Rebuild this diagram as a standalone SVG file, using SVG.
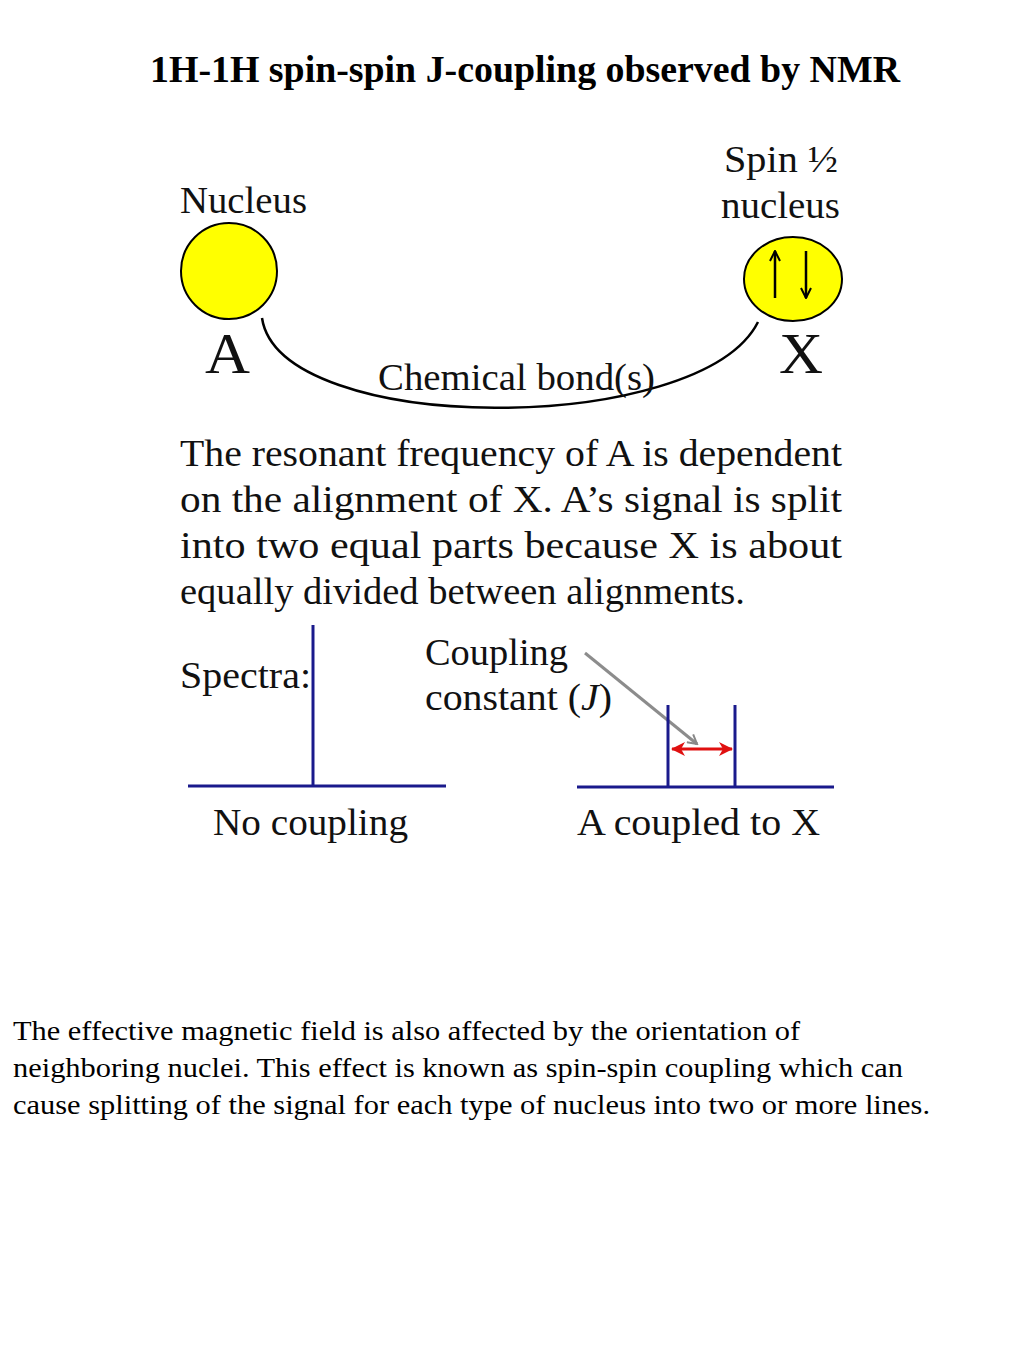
<svg xmlns="http://www.w3.org/2000/svg" width="1024" height="1365" viewBox="0 0 1024 1365">
<style>
.t{font-family:'Liberation Serif','Times New Roman',Times,serif;fill:#000}
.img{font-family:'Liberation Serif','Times New Roman',Times,serif;fill:#111;font-size:38px}
.big{font-size:56px}
.nuc{fill:#ffff00;stroke:#000;stroke-width:2}
.ax{stroke:#1a1a8c;stroke-width:3;fill:none}
</style>
<defs>
<marker id="gh" markerWidth="12" markerHeight="12" refX="10" refY="6" orient="auto" markerUnits="userSpaceOnUse"><path d="M1,1 L10,6 L1,11" fill="none" stroke="#888" stroke-width="2"/></marker>
<marker id="rh" markerWidth="14" markerHeight="14" refX="13" refY="7" orient="auto-start-reverse" markerUnits="userSpaceOnUse"><path d="M0,0 L14,7 L0,14 L4,7 Z" fill="#e01010"/></marker>
<marker id="bh" markerWidth="12" markerHeight="12" refX="11" refY="6" orient="auto" markerUnits="userSpaceOnUse"><path d="M1,1 L11,6 L1,11" fill="none" stroke="#000" stroke-width="2"/></marker>
</defs>
<rect width="1024" height="1365" fill="#fff"/>
<text class="t" x="150" y="82" font-size="37" font-weight="bold" textLength="750" lengthAdjust="spacingAndGlyphs">1H-1H spin-spin J-coupling observed by NMR</text>

<g id="nodeA">
<ellipse class="nuc" cx="229" cy="271" rx="48" ry="48"/>
<text class="img" x="180" y="213" textLength="127" lengthAdjust="spacingAndGlyphs">Nucleus</text>
<text class="img big" x="205" y="373" textLength="45" lengthAdjust="spacingAndGlyphs">A</text>
</g>
<g id="nodeX">
<ellipse class="nuc" cx="793" cy="279" rx="49" ry="42"/>
<line x1="775" y1="298" x2="775" y2="251" stroke="#000" stroke-width="2.5" marker-end="url(#bh)"/>
<line x1="806" y1="251" x2="806" y2="298" stroke="#000" stroke-width="2.5" marker-end="url(#bh)"/>
<text class="img" x="724" y="172" textLength="114" lengthAdjust="spacingAndGlyphs">Spin ½</text>
<text class="img" x="721" y="218" textLength="119" lengthAdjust="spacingAndGlyphs">nucleus</text>
<text class="img big" x="779" y="373" textLength="44" lengthAdjust="spacingAndGlyphs">X</text>
</g>
<g id="connectors">
<path d="M262,318 C280,437 700,437 758,322" fill="none" stroke="#000" stroke-width="2.5"/>
<line x1="585" y1="653" x2="697" y2="744" stroke="#8c8c8c" stroke-width="3" marker-end="url(#gh)"/>
<line x1="672" y1="749" x2="732" y2="749" stroke="#e01010" stroke-width="3" marker-start="url(#rh)" marker-end="url(#rh)"/>
</g>
<g id="bondLabel"><text class="img" x="378" y="390" textLength="277" lengthAdjust="spacingAndGlyphs">Chemical bond(s)</text></g>

<g id="paragraph">
<text class="img" x="180" y="466" textLength="662" lengthAdjust="spacingAndGlyphs">The resonant frequency of A is dependent</text>
<text class="img" x="180" y="512" textLength="662" lengthAdjust="spacingAndGlyphs">on the alignment of X. A’s signal is split</text>
<text class="img" x="180" y="558" textLength="662" lengthAdjust="spacingAndGlyphs">into two equal parts because X is about</text>
<text class="img" x="180" y="604" textLength="565" lengthAdjust="spacingAndGlyphs">equally divided between alignments.</text>
</g>

<g id="spectrumNoCoupling">
<text class="img" x="180" y="688" textLength="131" lengthAdjust="spacingAndGlyphs">Spectra:</text>
<line class="ax" x1="313" y1="625" x2="313" y2="787"/>
<line class="ax" x1="188" y1="786" x2="446" y2="786"/>
<text class="img" x="213" y="835" textLength="195" lengthAdjust="spacingAndGlyphs">No coupling</text>
</g>
<g id="couplingLabel">
<text class="img" x="425" y="665" textLength="143" lengthAdjust="spacingAndGlyphs">Coupling</text>
<text class="img" x="425" y="710" textLength="187" lengthAdjust="spacingAndGlyphs">constant (<tspan font-style="italic">J</tspan>)</text>
</g>
<g id="spectrumCoupled">
<line class="ax" x1="668" y1="705" x2="668" y2="788"/>
<line class="ax" x1="735" y1="705" x2="735" y2="788"/>
<line class="ax" x1="577" y1="787" x2="834" y2="787"/>
<text class="img" x="577" y="835" textLength="243" lengthAdjust="spacingAndGlyphs">A coupled to X</text>
</g>

<g id="caption">
<text class="t" x="13" y="1040" font-size="27" textLength="787" lengthAdjust="spacingAndGlyphs">The effective magnetic field is also affected by the orientation of</text>
<text class="t" x="13" y="1077" font-size="27" textLength="890" lengthAdjust="spacingAndGlyphs">neighboring nuclei. This effect is known as spin-spin coupling which can</text>
<text class="t" x="13" y="1114" font-size="27" textLength="917" lengthAdjust="spacingAndGlyphs">cause splitting of the signal for each type of nucleus into two or more lines.</text>
</g>
</svg>
